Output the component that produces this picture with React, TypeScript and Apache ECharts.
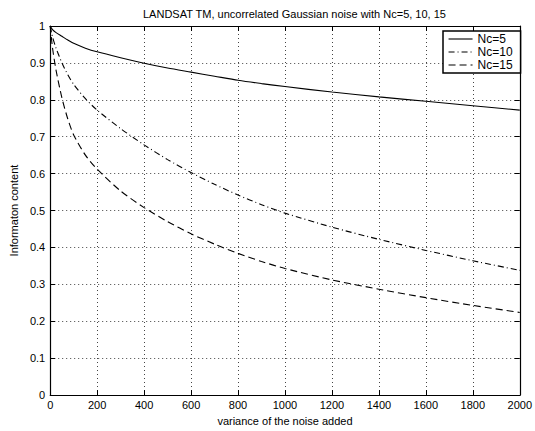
import React, { useEffect, useRef } from "react";
import * as echarts from "echarts";

const titleText = "LANDSAT TM, uncorrelated Gaussian noise with Nc=5, 10, 15";
const xName = "variance of the noise added";
const yName = "Informaton content";
const seriesNames = ["Nc=5", "Nc=10", "Nc=15"];

const noiseVariance = [0, 10, 25, 50, 75, 100, 150, 200, 300, 400, 500, 600, 700, 800, 900, 1000, 1200, 1400, 1600, 1800, 2000];
const nc5 = [1.0, 0.99, 0.982, 0.972, 0.962, 0.953, 0.94, 0.93, 0.914, 0.899, 0.886, 0.875, 0.864, 0.853, 0.844, 0.836, 0.821, 0.808, 0.796, 0.784, 0.772];
const nc10 = [1.0, 0.97, 0.94, 0.9, 0.868, 0.842, 0.803, 0.772, 0.722, 0.678, 0.638, 0.603, 0.571, 0.542, 0.516, 0.493, 0.455, 0.422, 0.392, 0.364, 0.338];
const nc15 = [1.0, 0.94, 0.88, 0.805, 0.748, 0.705, 0.65, 0.612, 0.553, 0.508, 0.47, 0.437, 0.409, 0.384, 0.362, 0.343, 0.312, 0.287, 0.264, 0.243, 0.224];

const FONT = "Liberation Sans, Arial, Helvetica, sans-serif";

export default function App() {
  const ref = useRef<HTMLDivElement>(null);
  useEffect(() => {
    if (!ref.current) return;
    const chart = echarts.init(ref.current, undefined, { renderer: "svg" });
    const mk = (vals: number[]) => noiseVariance.map((x, i) => [x, vals[i]]);
    const gridLine = { show: true, lineStyle: { color: "#444", type: [1, 3], width: 1 } };
    const baseX = {
      type: "value",
      min: 0,
      max: 2000,
      interval: 200,
      axisLine: { show: true, onZero: false, lineStyle: { color: "#000", width: 1.2 } },
      axisTick: { show: true, inside: true, length: 5, lineStyle: { color: "#000" } },
    };
    const baseY = {
      type: "value",
      min: 0,
      max: 1,
      interval: 0.1,
      axisLine: { show: true, onZero: false, lineStyle: { color: "#000", width: 1.2 } },
      axisTick: { show: true, inside: true, length: 5, lineStyle: { color: "#000" } },
    };
    const lineSeries = (name: string, vals: number[], type: any) => ({
      name,
      type: "line",
      data: mk(vals),
      smooth: 0.25,
      symbol: "none",
      lineStyle: { color: "#000", width: 1.1, type },
      itemStyle: { color: "#000" },
    });
    chart.setOption({
      animation: false,
      backgroundColor: "#fff",
      textStyle: { fontFamily: FONT },
      title: {
        text: titleText,
        left: 138,
        top: 3,
        textStyle: { fontSize: 11, fontWeight: "normal", color: "#000", fontFamily: FONT },
      },
      grid: { left: 41.5, top: 26, right: 13, bottom: 26, containLabel: false },
      legend: {
        left: 443,
        top: 31,
        orient: "vertical",
        backgroundColor: "#fff",
        borderColor: "#000",
        borderWidth: 1.5,
        borderRadius: 0,
        padding: [2, 8, 2, 5],
        itemGap: 1,
        itemWidth: 24,
        itemHeight: 11,
        itemStyle: { opacity: 0 },
        lineStyle: { width: 1.1 },
        textStyle: { fontSize: 12, color: "#000", fontFamily: FONT },
        data: seriesNames,
      },
      xAxis: [
        {
          ...baseX,
          position: "bottom",
          name: xName,
          nameLocation: "middle",
          nameGap: 15,
          nameTextStyle: { fontSize: 11, color: "#000", fontFamily: FONT },
          axisLabel: {
            show: true,
            margin: 4,
            fontSize: 11,
            color: "#000",
            fontFamily: FONT,
            formatter: (v: number) => String(v),
          },
          splitLine: gridLine,
        },
        {
          ...baseX,
          position: "top",
          axisLabel: { show: false },
          splitLine: { show: false },
        },
      ],
      yAxis: [
        {
          ...baseY,
          position: "left",
          name: yName,
          nameLocation: "middle",
          nameGap: 25,
          nameTextStyle: { fontSize: 11, color: "#000", fontFamily: FONT },
          axisLabel: {
            show: true,
            margin: 5,
            fontSize: 11,
            color: "#000",
            fontFamily: FONT,
            formatter: (v: number) => String(Math.round(v * 10) / 10),
          },
          splitLine: gridLine,
        },
        {
          ...baseY,
          position: "right",
          axisLabel: { show: false },
          splitLine: { show: false },
        },
      ],
      series: [
        lineSeries(seriesNames[0], nc5, "solid"),
        lineSeries(seriesNames[1], nc10, [6, 3, 1, 3]),
        lineSeries(seriesNames[2], nc15, [7, 4]),
      ],
    });
    return () => chart.dispose();
  }, []);
  return (
    <div
      ref={ref}
      style={{ position: "fixed", left: 0, top: 0, width: 535, height: 431, background: "#fff" }}
    />
  );
}
